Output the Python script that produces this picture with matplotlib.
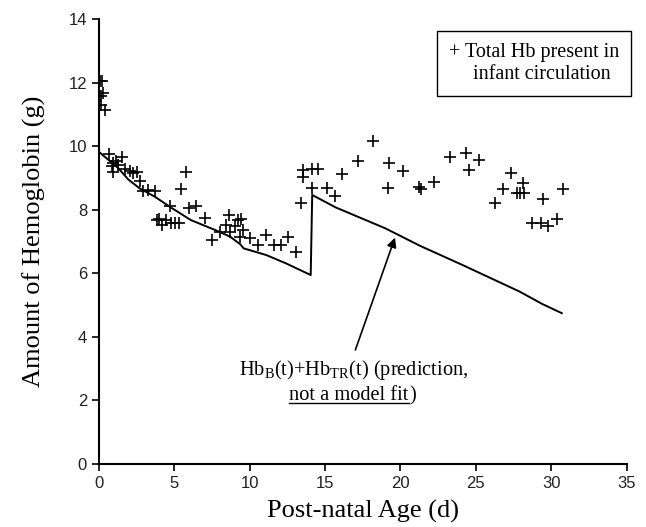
import matplotlib
matplotlib.use("Agg")
import matplotlib.pyplot as plt
from matplotlib.lines import Line2D

# observed total Hb in infant circulation (day, grams)
obs_age = [0.05, 0.2, 0.13, 0.29, 0.13, 0.44,
           0.66, 0.84, 0.95, 0.95, 1.17, 1.28, 1.54, 1.72, 2.05, 2.27, 2.5,
           2.72, 2.94, 3.27, 3.71,
           3.89, 4.0, 4.22, 4.48, 4.81, 5.03, 5.3, 4.7, 5.47, 5.76, 5.96,
           6.47, 7.02, 7.5,
           8.01, 8.46, 8.63, 8.68, 9.0, 9.23, 9.45, 9.56, 9.38, 10.05, 10.55,
           11.1, 11.59, 12.05, 12.54, 13.09,
           13.38, 13.53, 13.53, 14.15, 14.55, 14.14, 15.1, 15.63, 16.14,
           17.17, 18.17, 19.27, 19.2, 20.2, 21.26, 21.37, 22.25, 23.29,
           24.35, 24.52, 25.23, 26.29, 26.78, 27.33, 28.1, 27.74, 27.96,
           28.2, 28.7, 29.3, 29.8, 30.4, 29.47, 30.8]
obs_hb = [12.05, 12.05, 11.57, 11.66, 11.29, 11.13,
          9.75, 9.37, 9.48, 9.19, 9.54, 9.40, 9.66, 9.27, 9.22, 9.16, 9.19,
          8.90, 8.6, 8.62, 8.6,
          7.67, 7.7, 7.52, 7.67, 7.57, 7.57, 7.59, 8.11, 8.64, 9.17, 8.04,
          8.11, 7.73, 7.04,
          7.3, 7.52, 7.83, 7.3, 7.48, 7.67, 7.69, 7.36, 7.13, 7.1, 6.89,
          7.2, 6.89, 6.89, 7.15, 6.68,
          8.2, 9.03, 9.25, 9.28, 9.28, 8.67, 8.68, 8.43, 9.12,
          9.54, 10.16, 9.48, 8.69, 9.23, 8.72, 8.65, 8.88, 9.64,
          9.77, 9.25, 9.56, 8.22, 8.64, 9.14, 8.85, 8.51, 8.51,
          8.51, 7.59, 7.59, 7.48, 7.69, 8.32, 8.64]

# model prediction HbB(t) + HbTR(t)
pred_age = [0, 1.3, 1.95, 2.7, 3.7, 4.7, 6.1, 7.7, 8.7, 9.4, 9.6, 11.1,
            12.4, 14.05, 14.15, 15.7, 19.0, 21.3, 24.1, 27.9, 29.4, 30.7]
pred_hb = [9.82, 9.3, 8.95, 8.67, 8.41, 8.09, 7.67, 7.36, 7.15, 6.9, 6.78,
           6.57, 6.31, 5.94, 8.46, 8.07, 7.41, 6.86, 6.26, 5.42, 5.03, 4.74]

x_ticks = [0, 5, 10, 15, 20, 25, 30, 35]
y_ticks = [0, 2, 4, 6, 8, 10, 12, 14]

serif = ["Liberation Serif", "DejaVu Serif"]
sans = ["Liberation Sans", "DejaVu Sans"]

fig = plt.figure(figsize=(6.46, 5.27), dpi=100)
ax = fig.add_axes([0.153, 0.12, 0.817, 0.844])

ax.plot(pred_age, pred_hb, color="black", lw=1.4)
ax.plot(obs_age, obs_hb, ls="none", marker="+", ms=9, mew=1.2, color="black")

ax.set_xlim(0, 35)
ax.set_ylim(0, 14)
ax.set_xticks(x_ticks)
ax.set_yticks(y_ticks)
for spine in ("top", "right"):
    ax.spines[spine].set_visible(False)
for spine in ("left", "bottom"):
    ax.spines[spine].set_linewidth(1.5)
ax.tick_params(direction="out", length=5, width=1.2, labelsize=12,
               labelcolor="#222222")
for lbl in ax.get_xticklabels() + ax.get_yticklabels():
    lbl.set_family(sans)

ax.set_xlabel("Post-natal Age (d)", family=serif, fontsize=19, labelpad=7)
ax.set_ylabel("Amount of Hemoglobin (g)", family=serif, fontsize=19, labelpad=16)

# legend-like text box
ax.text(0.825, 0.899, "+ Total Hb present in\n   infant circulation",
        transform=ax.transAxes, ha="center", va="center", family=serif,
        fontsize=14.5, linespacing=1.2, clip_on=False,
        bbox=dict(boxstyle="square,pad=0.6", fc="white", ec="black", lw=1.0))

# annotation with arrow onto the prediction line
ax.annotate("", xy=(19.7, 7.2), xytext=(16.95, 3.5),
            arrowprops=dict(arrowstyle="-|>", color="black", lw=1.2,
                            mutation_scale=14))
ax.text(16.9, 2.96, r"Hb$_\mathregular{B}$(t)+Hb$_\mathregular{TR}$(t) (prediction,",
        ha="center", va="center", family=serif, fontsize=14.7)
t2 = ax.text(16.6, 2.15, "not a model fit", ha="center", va="center",
             family=serif, fontsize=14.7)
ax.annotate(")", xy=(1, 0.5), xycoords=t2, ha="left", va="center",
            family=serif, fontsize=14.7)

fig.canvas.draw()
bb = t2.get_window_extent(fig.canvas.get_renderer())
fig.add_artist(Line2D([bb.x0, bb.x1], [bb.y0 + 2, bb.y0 + 2],
                      transform=None, color="black", lw=1.0))

fig.savefig("out.png", dpi=100)
